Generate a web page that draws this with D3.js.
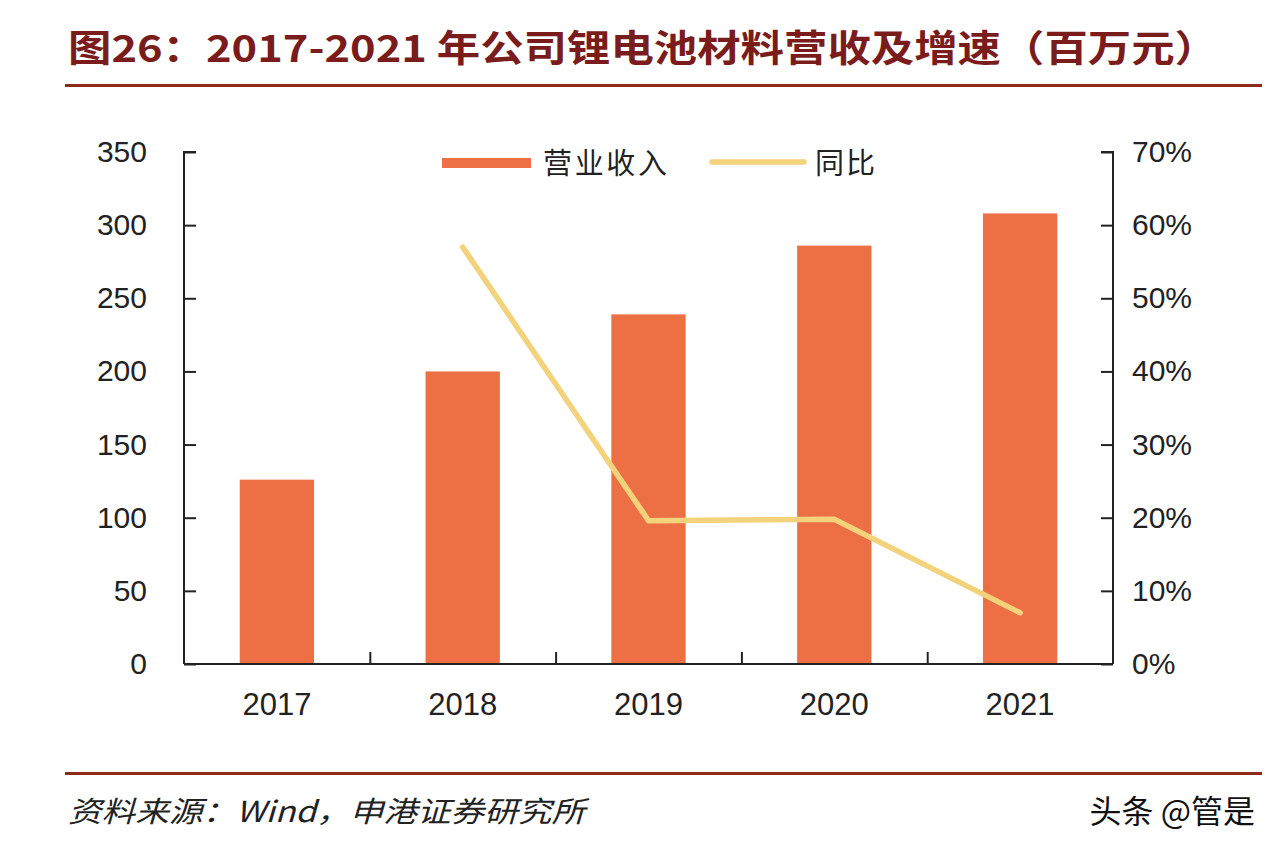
<!DOCTYPE html>
<html><head><meta charset="utf-8">
<script src="https://cdn.jsdelivr.net/npm/d3@7"></script>
<style>
html,body{margin:0;padding:0;background:#fff;}
svg{display:block;}
</style></head>
<body>
<svg id="chart" width="1280" height="852"></svg>
<script>
const categories = ["2017","2018","2019","2020","2021"];
const revenue = [126, 200, 239, 286, 308];
const yoy = [null, 0.57, 0.196, 0.198, 0.07];
const leftTicks = [0,50,100,150,200,250,300,350];
const rightTicks = [0,0.1,0.2,0.3,0.4,0.5,0.6,0.7];
const titleText = "图26：2017-2021 年公司锂电池材料营收及增速（百万元）";
const sourceText = "资料来源：Wind，申港证券研究所";
const watermark = "头条 @管是";
const legendNames = ["营业收入","同比"];

const svg = d3.select("#chart");
const m = {l:184, r:1113, t:152, b:664};
const latin = "'Liberation Sans', Arial, sans-serif";
const cjk = "'Noto Sans CJK SC', 'Liberation Sans', sans-serif";
const barColor = "#ec7044", lineColor = "#f3d27c", titleColor = "#7a1c1c", ruleColor = "#8e2a1c";

// title
svg.append("text").attr("x",68).attr("y",62).attr("fill",titleColor)
  .attr("font-family",cjk).attr("font-weight","bold").attr("font-size",37)
  .attr("textLength",1150).attr("lengthAdjust","spacingAndGlyphs").text(titleText);
svg.append("rect").attr("x",65).attr("y",84).attr("width",1197).attr("height",3).attr("fill",ruleColor);
svg.append("rect").attr("x",65).attr("y",772).attr("width",1197).attr("height",3).attr("fill",ruleColor);

const x = d3.scaleBand().domain(categories).range([m.l,m.r]).paddingInner(0.6).paddingOuter(0.3);
const xb = d3.scaleBand().domain(categories).range([m.l,m.r]);
const yL = d3.scaleLinear().domain([0,350]).range([m.b,m.t]);
const yR = d3.scaleLinear().domain([0,0.7]).range([m.b,m.t]);

// bars
svg.append("g").selectAll("rect").data(categories).join("rect")
  .attr("x",d=>x(d)).attr("width",x.bandwidth())
  .attr("y",(d,i)=>yL(revenue[i])).attr("height",(d,i)=>m.b-yL(revenue[i]))
  .attr("fill",barColor);

// line
const pts = categories.map((c,i)=>({c, v:yoy[i]})).filter(p=>p.v!=null);
svg.append("path").datum(pts)
  .attr("d", d3.line().x(p=>xb(p.c)+xb.bandwidth()/2).y(p=>yR(p.v)))
  .attr("fill","none").attr("stroke",lineColor).attr("stroke-width",5.5)
  .attr("stroke-linecap","round").attr("stroke-linejoin","round");

// axes
const axisColor = "#222";
const gL = svg.append("g").attr("transform",`translate(${m.l},0)`)
  .call(d3.axisRight(yL).tickValues(leftTicks).tickSize(12).tickFormat(""));
const gR = svg.append("g").attr("transform",`translate(${m.r},0)`)
  .call(d3.axisLeft(yR).tickValues(rightTicks).tickSize(12).tickFormat(""));
const gX = svg.append("g").attr("transform",`translate(0,${m.b})`)
  .call(d3.axisTop(d3.scaleLinear().domain([0,5]).range([m.l,m.r])).tickValues([1,2,3,4]).tickSize(12).tickFormat(""));
[gL,gR,gX].forEach(g=>{
  g.select(".domain").attr("stroke",axisColor).attr("stroke-width",2);
  g.selectAll(".tick line").attr("stroke",axisColor).attr("stroke-width",2);
});
gL.select(".domain").attr("d",`M12,${m.t}H0V${m.b}`);
gR.select(".domain").attr("d",`M-12,${m.t}H0V${m.b}`);
gX.select(".domain").attr("d",`M${m.l},0H${m.r}`);

// tick labels
svg.append("g").selectAll("text").data(leftTicks).join("text")
  .attr("x",147).attr("y",d=>yL(d)+10).attr("text-anchor","end")
  .attr("font-family",latin).attr("font-size",30).attr("fill","#222").text(d=>d);
svg.append("g").selectAll("text").data(rightTicks).join("text")
  .attr("x",1132).attr("y",d=>yR(d)+10).attr("text-anchor","start")
  .attr("font-family",latin).attr("font-size",30).attr("fill","#222").text(d=>Math.round(d*100)+"%");
svg.append("g").selectAll("text").data(categories).join("text")
  .attr("x",d=>xb(d)+xb.bandwidth()/2).attr("y",715).attr("text-anchor","middle")
  .attr("font-family",latin).attr("font-size",31).attr("fill","#222").text(d=>d);

// legend
svg.append("rect").attr("x",442).attr("y",158).attr("width",89).attr("height",10).attr("fill",barColor);
svg.append("text").attr("x",543).attr("y",174).attr("font-family",cjk).attr("font-size",29)
  .attr("textLength",124).attr("fill","#222").text(legendNames[0]);
svg.append("line").attr("x1",712).attr("x2",804).attr("y1",162).attr("y2",162)
  .attr("stroke",lineColor).attr("stroke-width",5.5).attr("stroke-linecap","round");
svg.append("text").attr("x",815).attr("y",174).attr("font-family",cjk).attr("font-size",29)
  .attr("textLength",60).attr("fill","#222").text(legendNames[1]);

// footer
svg.append("text").attr("x",68).attr("y",822).attr("font-family",cjk).attr("font-size",29)
  .attr("font-style","italic").attr("fill","#222")
  .attr("textLength",517).attr("lengthAdjust","spacingAndGlyphs").text(sourceText);
svg.append("text").attr("x",1255).attr("y",823).attr("text-anchor","end").attr("font-family",cjk).attr("font-size",32)
  .attr("fill","#111").text(watermark);
</script>
</body></html>
